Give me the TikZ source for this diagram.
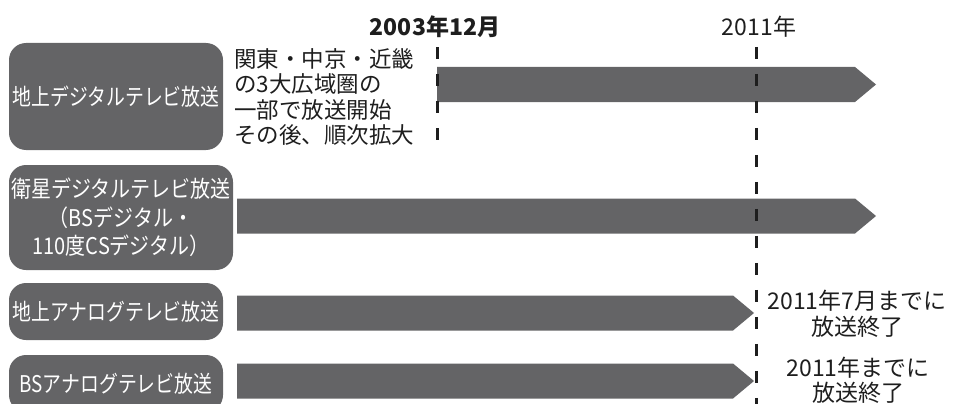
\documentclass[tikz,border=0pt]{standalone}
\usepackage{fontspec}
\setmainfont{Noto Sans CJK JP}
\newfontfamily\boxfont[FakeStretch=0.82]{Noto Sans CJK JP}
\newfontfamily\boxfontw[FakeStretch=0.87]{Noto Sans CJK JP}
\definecolor{bargray}{HTML}{646466}
\definecolor{inkblack}{HTML}{1E1E1E}

\begin{document}
\begin{tikzpicture}[x=1pt, y=-1pt,
	every node/.style={inner sep=0pt, text=inkblack},
	kind/.style={fill=bargray, rounded corners=17pt, text=white, align=center, minimum width=214pt, font=\boxfont\fontsize{23}{28.5}\selectfont},
	bar/.style={fill=bargray},
	yearline/.style={draw=inkblack, line width=3pt, dash pattern=on 12pt off 15pt},
	note/.style={align=center, font=\fontsize{23}{26.5}\selectfont}]
	\useasboundingbox (0,0) rectangle (953,404);
	% categories
	\node[kind, minimum height=107pt] (tdig) at (116,96.5) {地上デジタルテレビ放送};
	\node[kind, minimum height=105pt, minimum width=224pt, font=\boxfontw\fontsize{23}{28.5}\selectfont] (sdig) at (121,217.5) {衛星デジタルテレビ放送\\（BSデジタル・\\110度CSデジタル）};
	\node[kind, minimum height=57pt] (tana) at (116,311.5) {地上アナログテレビ放送};
	\node[kind, minimum height=57pt] (bsana) at (116,383.5) {BSアナログテレビ放送};
	% bars
	\foreach \xs/\xe/\yc in {437/876/84.5, 237/876/216, 237/754/313, 237/754/381}
		{\fill[bar] (\xs,\yc-17.5) -- (\xe-21,\yc-17.5) -- (\xe,\yc) -- (\xe-21,\yc+17.5) -- (\xs,\yc+17.5) -- cycle;}
	% years
	\node[font=\bfseries\fontsize{23}{23}\selectfont] (y2003) at (435,27) {2003年12月};
	\node[font=\fontsize{23}{23}\selectfont] (y2011) at (759,27) {2011年};
	\coordinate (e2003) at (437,142);
	\coordinate (e2011) at (756,410);
	\draw[yearline] ([xshift=2pt, yshift=-9pt]y2003.south) -- (e2003);
	\draw[yearline] ([xshift=-3pt, yshift=-9pt]y2011.south) -- (e2011);
	% notes
	\node[anchor=north west, align=left, font=\fontsize{22.5}{25.5}\selectfont] (start) at (234,48) {関東・中京・近畿\\の3大広域圏の\\一部で放送開始\\その後、順次拡大};
	\node[note] (endt) at (857,314) {2011年7月までに\\放送終了};
	\node[note, font=\fontsize{23}{25}\selectfont] (endbs) at (858,380) {2011年までに\\放送終了};
\end{tikzpicture}
\end{document}
